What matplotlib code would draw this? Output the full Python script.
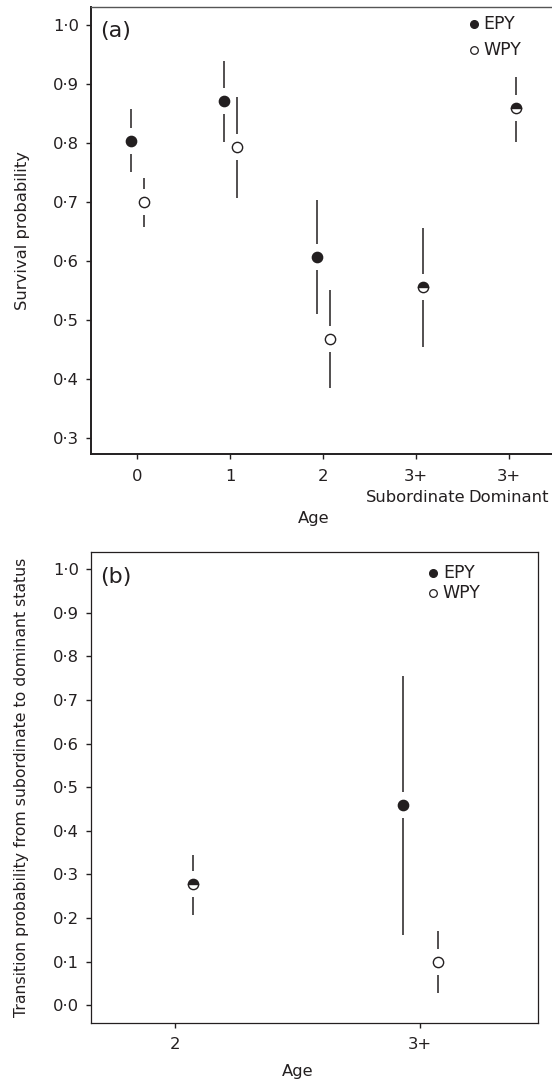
import numpy as np
import matplotlib
matplotlib.use("Agg")
import matplotlib.pyplot as plt

plt.rcParams['font.family'] = ['DejaVu Sans']
INK = '#231f20'

# panel (a): survival probability by age class
cats_a = ['0', '1', '2', '3+\nSubordinate', '3+\nDominant']
epy_a = [0.803, 0.870, 0.606, 0.556, 0.859]
epy_a_lo = [0.751, 0.801, 0.510, 0.455, 0.802]
epy_a_hi = [0.858, 0.939, 0.703, 0.656, 0.911]
wpy_a = [0.699, 0.793, 0.467, 0.556, 0.859]
wpy_a_lo = [0.658, 0.707, 0.384, 0.455, 0.802]
wpy_a_hi = [0.741, 0.877, 0.550, 0.656, 0.911]

# panel (b): transition probability subordinate -> dominant
cats_b = ['2', '3+']
epy_b = [0.278, 0.459]
epy_b_lo = [0.208, 0.162]
epy_b_hi = [0.345, 0.756]
wpy_b = [0.278, 0.100]
wpy_b_lo = [0.208, 0.029]
wpy_b_hi = [0.345, 0.170]

W, H = 552, 1086
fig = plt.figure(figsize=(W / 100, H / 100), dpi=100)
ax1 = fig.add_axes([91 / W, 1 - 454 / H, 464.5 / W, 447 / H])
ax2 = fig.add_axes([91 / W, 1 - 1022.7 / H, 447 / W, 470.4 / H])

ax1.set_xlim(-0.5, 4.5)
ax1.set_ylim(0.273, 1.030)
ax2.set_xlim(-0.343, 1.483)
ax2.set_ylim(-0.04, 1.039)

off_e, off_w = -0.07, 0.075
ms = 7.4
gap_px = 13
fs = 11.8


def draw_ci(ax, x, est, lo, hi):
    ylo, yhi = ax.get_ylim()
    ppu = ax.get_position().height * H / (yhi - ylo)
    g = gap_px / ppu
    ax.plot([x, x], [est + g, hi], color=INK, lw=1.1, solid_capstyle='butt')
    ax.plot([x, x], [lo, est - g], color=INK, lw=1.1, solid_capstyle='butt')


def draw_panel(ax, epy, elo, ehi, wpy, wlo, whi):
    for i in range(len(epy)):
        if epy[i] == wpy[i] and elo[i] == wlo[i]:
            x = i + off_w
            draw_ci(ax, x, epy[i], elo[i], ehi[i])
            ax.plot(x, epy[i], marker='o', ms=ms, fillstyle='top',
                    markerfacecolor=INK, markerfacecoloralt='white',
                    markeredgecolor=INK, mew=1.0, ls='none', zorder=3)
        else:
            draw_ci(ax, i + off_e, epy[i], elo[i], ehi[i])
            draw_ci(ax, i + off_w, wpy[i], wlo[i], whi[i])
            ax.plot(i + off_e, epy[i], 'o', ms=ms, color=INK, mec=INK, zorder=3)
            ax.plot(i + off_w, wpy[i], 'o', ms=ms, mfc='white', mec=INK,
                    mew=1.0, zorder=3)


draw_panel(ax1, epy_a, epy_a_lo, epy_a_hi, wpy_a, wpy_a_lo, wpy_a_hi)
draw_panel(ax2, epy_b, epy_b_lo, epy_b_hi, wpy_b, wpy_b_lo, wpy_b_hi)

ax1.set_xticks(range(len(cats_a)))
ax1.set_xticklabels(cats_a, linespacing=1.5)
ax1.set_yticks(np.arange(0.3, 1.01, 0.1))
ax2.set_xticks(range(len(cats_b)))
ax2.set_xticklabels(cats_b)
ax2.set_yticks(np.arange(0.0, 1.01, 0.1))

for ax in (ax1, ax2):
    ax.set_yticklabels([('%.1f' % v).replace('.', '\u00b7') for v in ax.get_yticks()])
    ax.tick_params(direction='out', length=3.6, width=1.0, colors=INK,
                   labelsize=fs)
    ax.tick_params(axis='y', pad=5)
    ax.tick_params(axis='x', pad=7)
    ax.set_xlabel('Age', fontsize=fs, color=INK)

for s in ax1.spines.values():
    s.set_color(INK)
    s.set_linewidth(1.4)
ax1.spines['top'].set_color('#555555')
ax1.spines['top'].set_linewidth(1.0)
for s in ax2.spines.values():
    s.set_color(INK)
    s.set_linewidth(0.9)

ax1.set_ylabel('Survival probability', fontsize=fs, color=INK)
ax2.set_ylabel('Transition probability from subordinate to dominant status',
               fontsize=11.3, color=INK)
ax1.yaxis.set_label_coords(-0.131, 0.5)
ax2.yaxis.set_label_coords(-0.139, 0.5)
ax1.xaxis.set_label_coords(0.48, -0.128)
ax2.xaxis.set_label_coords(0.463, -0.088)

ax1.text(0.019, 0.946, '(a)', transform=ax1.transAxes, fontsize=16,
         color=INK, va='center', ha='left')
ax2.text(0.020, 0.948, '(b)', transform=ax2.transAxes, fontsize=16,
         color=INK, va='center', ha='left')

# legends
for ax, mx, tx, ys in ((ax1, 0.8245, 0.844, (0.962, 0.904)),
                       (ax2, 0.765, 0.787, (0.956, 0.914))):
    ax.plot(mx, ys[0], 'o', ms=5.5, color=INK, transform=ax.transAxes)
    ax.plot(mx, ys[1], 'o', ms=5.5, mfc='white', mec=INK, mew=0.9,
            transform=ax.transAxes)
    ax.text(tx, ys[0], 'EPY', transform=ax.transAxes, fontsize=12.5,
            color=INK, va='center')
    ax.text(tx, ys[1], 'WPY', transform=ax.transAxes, fontsize=12.5,
            color=INK, va='center')

fig.savefig('out.png', dpi=100)
